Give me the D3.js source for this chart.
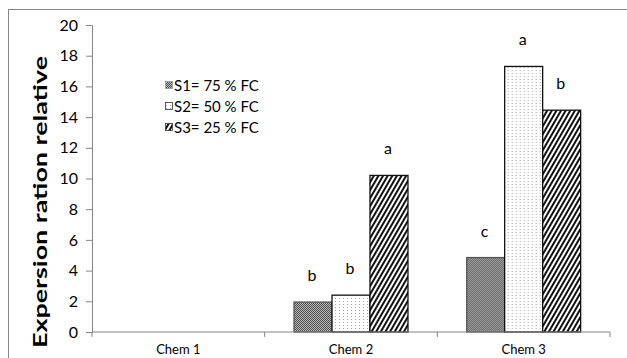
<!DOCTYPE html>
<html lang="en">
<head>
    <meta charset="UTF-8">
    <title>Expression ratio</title>
    <script src="https://cdn.jsdelivr.net/npm/d3@7"></script>
    <style>
        body { margin: 0; background: #fff; }
        svg { display: block; font-family: Lato, "Open Sans", sans-serif; }
    </style>
</head>
<body>
<div id="chart"></div>
<script>
    // chart values
    const categories = ["Chem 1", "Chem 2", "Chem 3"];
    const seriesNames = ["S1= 75 % FC", "S2= 50 % FC", "S3= 25 % FC"];
    const s1Values = [0, 1.95, 4.85];
    const s2Values = [0, 2.4, 17.3];
    const s3Values = [0, 10.2, 14.45];
    const s1Letters = ["", "b", "c"];
    const s2Letters = ["", "b", "a"];
    const s3Letters = ["", "a", "b"];
    const yTicks = [0, 2, 4, 6, 8, 10, 12, 14, 16, 18, 20];

    let width = 627;
    let height = 358;
    let margin = { top: 25, right: 17, bottom: 26, left: 92 };

    let svg = d3.select("#chart")
        .append("svg")
        .attr("width", width)
        .attr("height", height);

    // fill patterns
    let defs = svg.append("defs");

    let p1 = defs.append("pattern").attr("id", "pat-s1")
        .attr("patternUnits", "userSpaceOnUse").attr("width", 2).attr("height", 2);
    p1.append("rect").attr("width", 2).attr("height", 2).attr("fill", "#bdbdbd");
    p1.append("rect").attr("width", 1).attr("height", 1).attr("fill", "#4a4a4a");
    p1.append("rect").attr("x", 1).attr("y", 1).attr("width", 1).attr("height", 1).attr("fill", "#4a4a4a");

    let p2 = defs.append("pattern").attr("id", "pat-s2")
        .attr("patternUnits", "userSpaceOnUse").attr("width", 4).attr("height", 3);
    p2.append("rect").attr("width", 4).attr("height", 3).attr("fill", "#fff");
    p2.append("rect").attr("x", 1).attr("y", 1).attr("width", 1).attr("height", 1).attr("fill", "#a8a8a8");

    let p3 = defs.append("pattern").attr("id", "pat-s3")
        .attr("patternUnits", "userSpaceOnUse").attr("width", 4).attr("height", 4)
        .attr("patternTransform", "rotate(30)");
    p3.append("rect").attr("width", 4).attr("height", 4).attr("fill", "#fff");
    p3.append("rect").attr("width", 2).attr("height", 4).attr("fill", "#111");

    const fills = ["url(#pat-s1)", "url(#pat-s2)", "url(#pat-s3)"];
    const strokes = ["#555", "#111", "#111"];

    // outer chart border (cropped on right and bottom)
    svg.append("rect")
        .attr("x", 8.5).attr("y", 9.5)
        .attr("width", width + 20).attr("height", height + 20)
        .attr("fill", "none").attr("stroke", "#868686");

    let x0 = d3.scaleBand()
        .domain(categories)
        .range([margin.left, width - margin.right])
        .paddingInner(0.34)
        .paddingOuter(0.17);

    let x1 = d3.scaleBand()
        .domain(d3.range(seriesNames.length))
        .range([0, x0.bandwidth()]);

    let y = d3.scaleLinear()
        .domain([0, 20])
        .range([height - margin.bottom, margin.top]);

    let rows = categories.map((c, i) => ({
        cat: c,
        vals: [s1Values[i], s2Values[i], s3Values[i]],
        letters: [s1Letters[i], s2Letters[i], s3Letters[i]]
    }));

    // bars
    let groups = svg.selectAll("g.cat")
        .data(rows)
        .join("g")
        .attr("class", "cat")
        .attr("transform", d => `translate(${x0(d.cat)},0)`);

    groups.selectAll("rect")
        .data(d => d.vals.map((v, k) => ({ v, k })).filter(e => e.v > 0))
        .join("rect")
        .attr("x", d => x1(d.k))
        .attr("y", d => y(d.v))
        .attr("width", x1.bandwidth())
        .attr("height", d => y(0) - y(d.v))
        .attr("fill", d => fills[d.k])
        .attr("stroke", d => strokes[d.k])
        .attr("stroke-width", 1.3);

    groups.selectAll("text.letter")
        .data(d => d.letters.map((t, k) => ({ t, k, v: d.vals[k] })).filter(e => e.t))
        .join("text")
        .attr("class", "letter")
        .attr("x", d => x1(d.k) + x1.bandwidth() / 2 - 1)
        .attr("y", d => y(d.v) - 21)
        .attr("text-anchor", "middle")
        .attr("font-size", 16)
        .attr("fill", "#000")
        .text(d => d.t);

    // x axis: category boundary ticks
    let xAxisG = svg.append("g")
        .attr("transform", `translate(0,${y(0)})`);
    xAxisG.append("line")
        .attr("x1", margin.left).attr("x2", width - margin.right)
        .attr("stroke", "#868686");
    let bounds = [margin.left].concat(categories.map(c => x0(c) + x0.bandwidth() + x0.step() * x0.paddingInner() / 2));
    bounds[bounds.length - 1] = width - margin.right;
    xAxisG.selectAll("line.tick")
        .data(bounds)
        .join("line")
        .attr("class", "tick")
        .attr("x1", d => d).attr("x2", d => d)
        .attr("y1", 0).attr("y2", 5)
        .attr("stroke", "#868686");
    xAxisG.selectAll("text")
        .data(categories)
        .join("text")
        .attr("x", d => x0(d) + x0.bandwidth() / 2)
        .attr("y", 22)
        .attr("text-anchor", "middle")
        .attr("font-size", 13)
        .attr("fill", "#000")
        .text(d => d);

    // y axis
    let yAxis = d3.axisLeft(y)
        .tickValues(yTicks)
        .tickSize(6)
        .tickPadding(8);
    let yAxisG = svg.append("g")
        .attr("transform", `translate(${margin.left},0)`)
        .call(yAxis);
    yAxisG.select(".domain").attr("stroke", "#868686");
    yAxisG.selectAll(".tick line").attr("stroke", "#868686");
    yAxisG.selectAll(".tick text")
        .attr("font-size", 16)
        .attr("font-family", "Lato, sans-serif")
        .attr("fill", "#000");

    svg.append("text")
        .attr("transform", "translate(47,202) rotate(-90)")
        .attr("text-anchor", "middle")
        .attr("font-size", 19)
        .attr("font-weight", "bold")
        .attr("textLength", 292)
        .attr("lengthAdjust", "spacingAndGlyphs")
        .attr("fill", "#000")
        .text("Expersion ration relative");

    // legend
    let legend = svg.append("g")
        .attr("transform", "translate(165,86)");
    let items = legend.selectAll("g")
        .data(seriesNames)
        .join("g")
        .attr("transform", (d, i) => `translate(0,${i * 21})`);
    items.append("rect")
        .attr("x", 0.5).attr("y", -4.5)
        .attr("width", 7).attr("height", 7)
        .attr("fill", (d, i) => fills[i])
        .attr("stroke", (d, i) => i === 0 ? "#999" : "#333")
        .attr("stroke-width", 0.8);
    items.append("text")
        .attr("x", 9)
        .attr("y", 0)
        .attr("dy", "0.35em")
        .attr("font-size", 15)
        .attr("fill", "#000")
        .text(d => d);
</script>
</body>
</html>
